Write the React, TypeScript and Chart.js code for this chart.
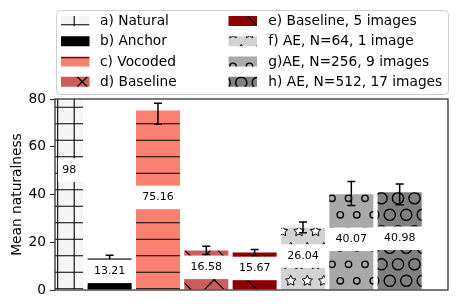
import { useEffect, useRef } from 'react';
import { Chart, registerables } from 'chart.js';

Chart.register(...registerables);

const categories = [
  'a) Natural',
  'b) Anchor',
  'c) Vocoded',
  'd) Baseline',
  'e) Baseline, 5 images',
  'f) AE, N=64, 1 image',
  'g)AE, N=256, 9 images',
  'h) AE, N=512, 17 images',
];
const meanValues = [98, 13.21, 75.16, 16.58, 15.67, 26.04, 40.07, 40.98];
const errLow = [96, 11.8, 69.4, 14.9, 14.3, 24.0, 35.4, 35.7];
const errHigh = [100, 14.6, 78.2, 18.3, 17.0, 28.5, 45.4, 44.4];
const yTicks = [0, 20, 40, 60, 80];
const barColors = ['#f5f5f5', '#000000', '#fa8072', '#cd5c5c', '#8b0000', '#d3d3d3', '#a9a9a9', '#808080'];
const hatchPatterns = ['+', '', '-', 'x', '\\', '*', 'o', 'O'];

const FONT = 'DejaVu Sans';
const HATCH_SP = 16.5;
const LINE_PHASE_X = 8.2;
const LINE_PHASE_Y = 8.3;
const DIAG_BACK = 0.5;
const DIAG_FWD = -1;
const SHAPE_A = { x: 2, y: 198.3 };
const SHAPE_B = { x: 10.25, y: 214.8 };

function star(ctx: CanvasRenderingContext2D, cx: number, cy: number, R: number) {
  ctx.beginPath();
  for (let i = 0; i < 10; i++) {
    const r = i % 2 === 0 ? R : R * 0.5;
    const a = -Math.PI / 2 + (i * Math.PI) / 5;
    const px = cx + r * Math.cos(a);
    const py = cy + r * Math.sin(a);
    if (i === 0) ctx.moveTo(px, py);
    else ctx.lineTo(px, py);
  }
  ctx.closePath();
  ctx.fillStyle = '#ffffff';
  ctx.fill();
  ctx.stroke();
}

function drawHatch(ctx: CanvasRenderingContext2D, kind: string, l: number, t: number, r: number, b: number) {
  if (!kind || r <= l || b <= t) return;
  ctx.save();
  ctx.beginPath();
  ctx.rect(l, t, r - l, b - t);
  ctx.clip();
  ctx.strokeStyle = '#000';
  ctx.lineWidth = 1.1;
  const sp = HATCH_SP;
  if (kind === '+' || kind === '-') {
    ctx.beginPath();
    for (let y = LINE_PHASE_Y + Math.floor((t - LINE_PHASE_Y) / sp) * sp; y <= b + 1; y += sp) {
      ctx.moveTo(l, y);
      ctx.lineTo(r, y);
    }
    if (kind === '+') {
      for (let x = LINE_PHASE_X + Math.floor((l - LINE_PHASE_X) / sp) * sp; x <= r + 1; x += sp) {
        ctx.moveTo(x, t);
        ctx.lineTo(x, b);
      }
    }
    ctx.stroke();
  }
  if (kind === 'x' || kind === '\\') {
    const p = 2 * sp;
    ctx.beginPath();
    const cmin = l - b - p;
    const cmax = r - t + p;
    for (let c = DIAG_BACK + Math.floor((cmin - DIAG_BACK) / p) * p; c <= cmax; c += p) {
      ctx.moveTo(t + c, t);
      ctx.lineTo(b + c, b);
    }
    if (kind === 'x') {
      const smin = l + t - p;
      const smax = r + b + p;
      for (let s = DIAG_FWD + Math.floor((smin - DIAG_FWD) / p) * p; s <= smax; s += p) {
        ctx.moveTo(s - t, t);
        ctx.lineTo(s - b, b);
      }
    }
    ctx.stroke();
  }
  if (kind === 'o' || kind === 'O' || kind === '*') {
    const R = kind === 'o' ? 3.2 : kind === 'O' ? 5.6 : 5.5;
    ctx.lineWidth = kind === '*' ? 1 : 1.4;
    for (const ph of [SHAPE_A, SHAPE_B]) {
      for (let y = ph.y + Math.floor((t - R - ph.y) / (2 * sp)) * 2 * sp; y <= b + R; y += 2 * sp) {
        for (let x = ph.x + Math.floor((l - R - ph.x) / sp) * sp; x <= r + R; x += sp) {
          if (kind === '*') star(ctx, x, y, R);
          else {
            ctx.beginPath();
            ctx.arc(x, y, R, 0, Math.PI * 2);
            ctx.stroke();
          }
        }
      }
    }
  }
  ctx.restore();
}

const overlay = {
  id: 'overlay',
  afterDatasetsDraw(chart: any) {
    const ctx: CanvasRenderingContext2D = chart.ctx;
    const area = chart.chartArea;
    const meta = chart.getDatasetMeta(0);
    const ys = chart.scales.y;
    meta.data.forEach((bar: any, i: number) => {
      const p = bar.getProps(['x', 'y', 'base', 'width'], true);
      const l = Math.max(p.x - p.width / 2, area.left);
      const r = Math.min(p.x + p.width / 2, area.right);
      const t = Math.max(Math.min(p.y, p.base), area.top);
      const b = Math.min(Math.max(p.y, p.base), area.bottom);
      drawHatch(ctx, hatchPatterns[i], l, t, r, b);
    });
    // error bars
    ctx.save();
    ctx.beginPath();
    ctx.rect(area.left, area.top, area.right - area.left, area.bottom - area.top);
    ctx.clip();
    ctx.strokeStyle = '#000';
    ctx.lineWidth = 1.5;
    meta.data.forEach((bar: any, i: number) => {
      const x = bar.x;
      const y1 = ys.getPixelForValue(errLow[i]);
      const y2 = ys.getPixelForValue(errHigh[i]);
      ctx.beginPath();
      ctx.moveTo(x, y1);
      ctx.lineTo(x, y2);
      ctx.moveTo(x - 4, y1);
      ctx.lineTo(x + 4, y1);
      ctx.moveTo(x - 4, y2);
      ctx.lineTo(x + 4, y2);
      ctx.stroke();
    });
    ctx.restore();
    // value labels
    ctx.save();
    ctx.font = `11px "${FONT}"`;
    ctx.textAlign = 'center';
    ctx.textBaseline = 'middle';
    meta.data.forEach((bar: any, i: number) => {
      const p = bar.getProps(['x', 'width'], true);
      const barL = p.x - p.width / 2;
      const barR = p.x + p.width / 2;
      const visL = Math.max(barL, area.left);
      const tx = (visL + barR) / 2;
      const ty = ys.getPixelForValue(meanValues[i] / 2 + 1.2);
      const bl = Math.max(barL - 1, area.left + 3);
      const br = barR + 1;
      ctx.fillStyle = '#ffffff';
      ctx.fillRect(bl, ty - 11.75, br - bl, 23.5);
      ctx.fillStyle = '#000';
      ctx.fillText(String(meanValues[i]), tx, ty);
    });
    ctx.restore();
  },
  afterDraw(chart: any) {
    const ctx: CanvasRenderingContext2D = chart.ctx;
    const area = chart.chartArea;
    ctx.save();
    // spines
    ctx.strokeStyle = '#333';
    ctx.lineWidth = 1.3;
    ctx.strokeRect(area.left, area.top, area.right - area.left, area.bottom - area.top);
    // y label
    ctx.fillStyle = '#000';
    ctx.font = `13.75px "${FONT}"`;
    ctx.textAlign = 'center';
    ctx.textBaseline = 'middle';
    ctx.translate(17, (area.top + area.bottom) / 2);
    ctx.rotate(-Math.PI / 2);
    ctx.fillText('Mean naturalness', 0, 0);
    ctx.restore();

    // legend
    ctx.save();
    const lx = 56.5, ly = 10.5, lw = 392, lh = 84, rad = 4;
    ctx.beginPath();
    ctx.moveTo(lx + rad, ly);
    ctx.lineTo(lx + lw - rad, ly);
    ctx.quadraticCurveTo(lx + lw, ly, lx + lw, ly + rad);
    ctx.lineTo(lx + lw, ly + lh - rad);
    ctx.quadraticCurveTo(lx + lw, ly + lh, lx + lw - rad, ly + lh);
    ctx.lineTo(lx + rad, ly + lh);
    ctx.quadraticCurveTo(lx, ly + lh, lx, ly + lh - rad);
    ctx.lineTo(lx, ly + rad);
    ctx.quadraticCurveTo(lx, ly, lx + rad, ly);
    ctx.closePath();
    ctx.fillStyle = 'rgba(255,255,255,0.8)';
    ctx.fill();
    ctx.strokeStyle = '#d0d0d0';
    ctx.lineWidth = 1;
    ctx.stroke();
    const colHandle = [61, 228.5];
    const colText = [100, 268.3];
    const handleW = 28.5;
    const handleH = 10;
    ctx.font = `13.75px "${FONT}"`;
    ctx.textBaseline = 'middle';
    ctx.textAlign = 'left';
    categories.forEach((name, i) => {
      const col = Math.floor(i / 4);
      const row = i % 4;
      const cy = 21 + row * 20.25;
      const hx = colHandle[col];
      const ht = cy - handleH / 2;
      ctx.fillStyle = barColors[i];
      ctx.fillRect(hx, ht, handleW, handleH);
      drawHatch(ctx, hatchPatterns[i], hx, ht, hx + handleW, ht + handleH);
      ctx.fillStyle = '#000';
      ctx.fillText(name, colText[col], cy + 0.5);
    });
    ctx.restore();
  },
};

export default function App() {
  const ref = useRef<HTMLCanvasElement | null>(null);
  useEffect(() => {
    if (!ref.current) return;
    const chart = new Chart(ref.current, {
      type: 'bar',
      data: {
        datasets: [
          {
            data: meanValues.map((v, i) => ({ x: i, y: v })),
            backgroundColor: barColors,
            borderWidth: 0,
            barPercentage: 0.91,
            categoryPercentage: 1,
          },
        ],
      },
      options: {
        responsive: false,
        animation: false,
        events: [],
        layout: { padding: { left: 0, right: 15, top: 99, bottom: 18 } },
        plugins: { legend: { display: false }, tooltip: { enabled: false } },
        scales: {
          x: { type: 'linear', min: -0.13, max: 8.0, offset: false, display: false, grid: { offset: false } },
          y: {
            min: 0,
            max: 80,
            afterBuildTicks: (s: any) => {
              s.ticks = yTicks.map((v) => ({ value: v }));
            },
            afterFit: (s: any) => {
              s.width = 55;
            },
            ticks: { color: '#000', font: { family: FONT, size: 13.75 }, padding: 4 },
            grid: { drawOnChartArea: false, drawTicks: true, tickLength: 5, tickColor: '#333', tickWidth: 1.2 },
            border: { display: false },
          },
        },
      },
      plugins: [overlay],
    } as any);
    return () => chart.destroy();
  }, []);
  return (
    <div style={{ position: 'fixed', left: 0, top: 0, width: 463, height: 308, background: '#fff' }}>
      <canvas ref={ref} width={463} height={308} style={{ display: 'block' }} />
    </div>
  );
}
